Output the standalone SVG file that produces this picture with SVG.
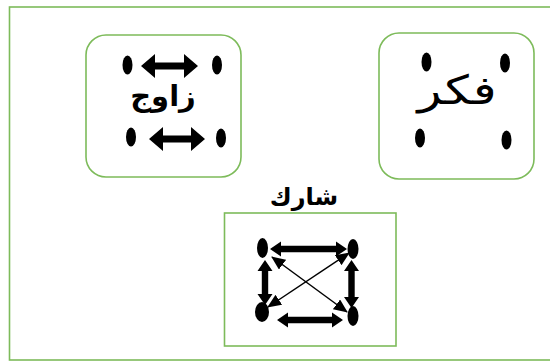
<svg xmlns="http://www.w3.org/2000/svg" width="550" height="361" viewBox="0 0 550 361">
<style>
.box{fill:#fff;stroke:#7dbb5a;stroke-width:1.6}
.dot{fill:#000}
.dbl{fill:#000;stroke:none}
.thin{stroke:#000;stroke-width:1.5;fill:none}
.ar{font-family:"DejaVu Sans","Noto Sans",sans-serif;fill:#000;text-anchor:middle}
</style>
<defs>
<marker id="hm" markerUnits="userSpaceOnUse" markerWidth="14" markerHeight="12" refX="13" refY="6" orient="auto-start-reverse" viewBox="0 0 14 12">
<path d="M0,0 L14,6 L0,12 Z" fill="#000"/>
</marker>
</defs>
<rect x="9.5" y="7" width="560" height="353" fill="#fff" stroke="#7dbb5a" stroke-width="1.6"/>
<g id="node-zawij">
<rect class="box" x="86" y="35" width="155" height="142" rx="20"/>
<ellipse class="dot" cx="127.5" cy="65" rx="5" ry="9.5"/>
<ellipse class="dot" cx="217" cy="65" rx="5" ry="9.5"/>
<ellipse class="dot" cx="131" cy="137" rx="5" ry="9.5"/>
<ellipse class="dot" cx="221" cy="138" rx="5" ry="9.5"/>
<text class="ar" x="163" y="106" font-size="29" font-weight="bold">زاوج</text>
</g>
<g id="node-fakkir">
<rect class="box" x="379" y="33" width="155" height="146" rx="20"/>
<ellipse class="dot" cx="426.5" cy="62" rx="5" ry="9.5"/>
<ellipse class="dot" cx="505" cy="63" rx="5" ry="9.5"/>
<ellipse class="dot" cx="420" cy="138" rx="5" ry="9.5"/>
<ellipse class="dot" cx="506.5" cy="140" rx="5" ry="9.5"/>
<text class="ar" x="0" y="104" font-size="40" transform="translate(457 0) scale(1.25 1)">فكر</text>
</g>
<g id="node-sharik">
<text class="ar" x="304" y="205" font-size="24" font-weight="bold">شارك</text>
<rect class="box" x="224.5" y="213" width="171.5" height="133"/>
<ellipse class="dot" cx="262.5" cy="248" rx="5.5" ry="10"/>
<ellipse class="dot" cx="353" cy="249" rx="5.5" ry="10"/>
<ellipse class="dot" cx="262" cy="312" rx="7" ry="10"/>
<ellipse class="dot" cx="353" cy="316" rx="5.5" ry="10"/>
</g>
<g id="connectors">
<path class="dbl" d="M141,66 L155,54 L155,62.5 L184,62.5 L184,54 L198,66 L184,78 L184,69.5 L155,69.5 L155,78 Z"/>
<path class="dbl" d="M149,139 L163,127 L163,135.5 L191,135.5 L191,127 L205,139 L191,151 L191,142.5 L163,142.5 L163,151 Z"/>
<path class="dbl" d="M270,249 L281,241.5 L281,245.8 L336,245.8 L336,241.5 L347,249 L336,256.5 L336,252.2 L281,252.2 L281,256.5 Z"/>
<path class="dbl" d="M277,320 L288,312.5 L288,316.8 L332,316.8 L332,312.5 L343,320 L332,327.5 L332,323.2 L288,323.2 L288,327.5 Z"/>
<path class="dbl" d="M265,260 L272.5,271 L268.2,271 L268.2,294 L272.5,294 L265,305 L257.5,294 L261.8,294 L261.8,271 L257.5,271 Z"/>
<path class="dbl" d="M351.5,260 L359,271 L354.7,271 L354.7,297 L359,297 L351.5,308 L344,297 L348.3,297 L348.3,271 L344,271 Z"/>
<line class="thin" x1="268" y1="307" x2="349" y2="253" marker-start="url(#hm)" marker-end="url(#hm)"/>
<line class="thin" x1="272" y1="257" x2="347" y2="312" marker-start="url(#hm)" marker-end="url(#hm)"/>
</g>
</svg>
